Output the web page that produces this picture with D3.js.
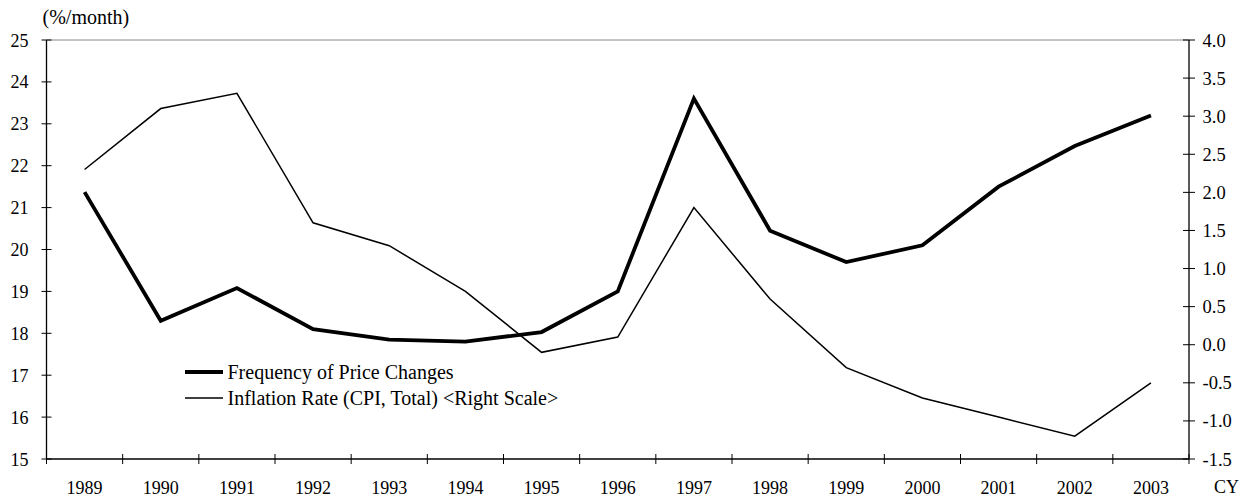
<!DOCTYPE html>
<html><head><meta charset="utf-8">
<script src="https://cdn.jsdelivr.net/npm/d3@7"></script>
<style>body{margin:0;background:#fff}svg text{font-family:"Liberation Serif","Times New Roman",serif;fill:#000}</style>
</head><body><svg id="c" width="1250" height="498"></svg>
<script>
const years = ["1989","1990","1991","1992","1993","1994","1995","1996","1997","1998","1999","2000","2001","2002","2003"];
const frequency = [21.37,18.3,19.08,18.1,17.85,17.8,18.03,19.0,23.6,20.45,19.7,20.1,21.5,22.47,23.2];
const inflation = [2.3,3.1,3.3,1.6,1.3,0.7,-0.1,0.1,1.8,0.6,-0.3,-0.7,-0.95,-1.2,-0.5];
const leftTicks = [15,16,17,18,19,20,21,22,23,24,25];
const rightTicks = [-1.5,-1.0,-0.5,0.0,0.5,1.0,1.5,2.0,2.5,3.0,3.5,4.0];
const legendLabels = ["Frequency of Price Changes","Inflation Rate (CPI, Total) <Right Scale>"];

const svg = d3.select("#c");
const L = 46.5, R = 1189, T = 40, B = 459;
const x = d3.scaleBand().domain(years).range([L, R]);
const yL = d3.scaleLinear().domain([15,25]).range([B, T]);
const yR = d3.scaleLinear().domain([-1.5,4.0]).range([B, T]);

svg.append("line").attr("x1",L).attr("x2",R).attr("y1",T).attr("y2",T).attr("stroke","#888").attr("stroke-width",1);

const gl = svg.append("g").attr("transform",`translate(${L},0)`);
gl.append("line").attr("y1",T).attr("y2",B).attr("stroke","#000").attr("stroke-width",1.3);
gl.selectAll("line.t").data(leftTicks).join("line").attr("class","t")
  .attr("x1",-5).attr("x2",5).attr("y1",d=>yL(d)).attr("y2",d=>yL(d)).attr("stroke","#000").attr("stroke-width",1);
gl.selectAll("text").data(leftTicks).join("text").attr("x",-18).attr("y",d=>yL(d)+6.5)
  .attr("text-anchor","end").style("font-size","18px").text(d=>d);

const gr = svg.append("g").attr("transform",`translate(${R},0)`);
gr.append("line").attr("y1",T).attr("y2",B).attr("stroke","#000").attr("stroke-width",1.3);
gr.selectAll("line.t").data(rightTicks).join("line").attr("class","t")
  .attr("x1",-6).attr("x2",6).attr("y1",d=>yR(d)).attr("y2",d=>yR(d)).attr("stroke","#000").attr("stroke-width",1);
gr.selectAll("text").data(rightTicks).join("text").attr("x",13.5).attr("y",d=>yR(d)+6.5)
  .attr("text-anchor","start").style("font-size","18.5px").text(d=>d3.format(".1f")(d).replace("−","-"));

const gb = svg.append("g");
gb.append("line").attr("x1",L).attr("x2",R).attr("y1",B).attr("y2",B).attr("stroke","#000").attr("stroke-width",1.3);
const bounds = years.map(y=>x(y)).concat([R]);
gb.selectAll("line.t").data(bounds).join("line").attr("class","t")
  .attr("x1",d=>d).attr("x2",d=>d).attr("y1",B-5).attr("y2",B+5).attr("stroke","#000").attr("stroke-width",1);
gb.selectAll("text").data(years).join("text").attr("x",d=>x(d)+x.bandwidth()/2).attr("y",494)
  .attr("text-anchor","middle").style("font-size","18px").text(d=>d);

svg.append("text").attr("x",1214).attr("y",493).style("font-size","18px").text("CY");
svg.append("text").attr("x",42.5).attr("y",24).style("font-size","20px").text("(%/month)");

const cx = d => x(d)+x.bandwidth()/2;
svg.append("path").datum(inflation).attr("fill","none").attr("stroke","#000").attr("stroke-width",1.5)
  .attr("d", d3.line().x((d,i)=>cx(years[i])).y(d=>yR(d)));
svg.append("path").datum(frequency).attr("fill","none").attr("stroke","#000").attr("stroke-width",3.8)
  .attr("d", d3.line().x((d,i)=>cx(years[i])).y(d=>yL(d)));

const lg = svg.append("g");
const widths=[3.8,1.5];
legendLabels.forEach((t,i)=>{
  const yy = 372 + i*26;
  lg.append("line").attr("x1",185).attr("x2",223).attr("y1",yy).attr("y2",yy).attr("stroke","#000").attr("stroke-width",widths[i]);
  lg.append("text").attr("x",227.5).attr("y",yy+7).style("font-size","20px").text(t);
});
</script></body></html>
